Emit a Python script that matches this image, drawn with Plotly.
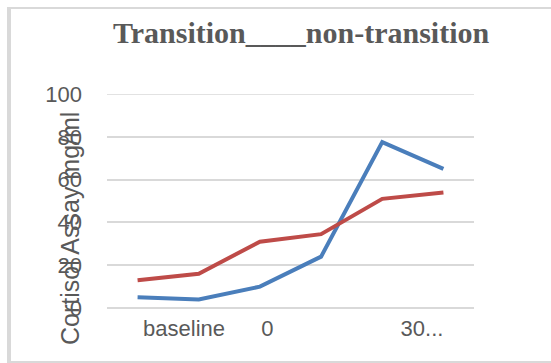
import plotly.graph_objects as go

categories = [0, 1, 2, 3, 4, 5]
transition = [5, 4, 10, 24, 77.5, 65]
non_transition = [13, 16, 31, 34.5, 51, 54]
tick_positions = [0.76, 2.12, 4.65]
tick_labels = ["baseline", "0", "30..."]
y_ticks = [0, 20, 40, 60, 80, 100]

W, H = 551, 363
L, R, T, B = 107, 77, 94, 55
PW, PH = W - L - R, H - T - B

def px(x):
    return (x - L) / PW

def py(y):
    return 1 - (y - T) / PH

fig = go.Figure()
fig.add_trace(go.Scatter(x=categories, y=transition, mode="lines",
                         line=dict(color="#4a7ebb", width=4), name="Transition"))
fig.add_trace(go.Scatter(x=categories, y=non_transition, mode="lines",
                         line=dict(color="#be4b48", width=4), name="non-transition"))

gray = "#d9d9d9"
fig.update_layout(
    width=W, height=H,
    margin=dict(l=L, r=R, t=T, b=B, autoexpand=False),
    paper_bgcolor="white", plot_bgcolor="white",
    showlegend=False,
    font=dict(family="Liberation Sans", color="#595959", size=22),
    xaxis=dict(range=[-0.5, 5.5], tickmode="array", tickvals=tick_positions,
               ticktext=tick_labels, showgrid=False, zeroline=False,
               showline=False, ticks="", ticklabelstandoff=5, tickfont=dict(size=22)),
    yaxis=dict(range=[0, 100], tickvals=y_ticks, showgrid=True, gridcolor=gray,
               gridwidth=1.5, zeroline=True, zerolinecolor=gray, zerolinewidth=1.5,
               showline=False, ticks="", ticklabelstandoff=24,
               tickfont=dict(size=22)),
)

# top gridline at 100
fig.add_shape(type="line", xref="paper", yref="y", x0=0, x1=1, y0=100, y1=100,
              line=dict(color=gray, width=1.5), layer="below")

fig.add_annotation(text="<b>Transition____non-transition</b>", xref="paper", yref="paper",
                   x=px(301), y=py(32), showarrow=False, xanchor="center", yanchor="middle",
                   font=dict(family="Liberation Serif", size=30, color="#595959"))
fig.add_annotation(text="Cortisol Assay mg/ml", xref="paper", yref="paper",
                   x=px(70), y=py(229), showarrow=False, xanchor="center", yanchor="middle",
                   textangle=-90, font=dict(family="Liberation Sans", size=25, color="#595959"))

# chart frame
fig.add_shape(type="line", xref="paper", yref="paper", x0=px(9), x1=px(9), y0=py(7), y1=py(363),
              line=dict(color=gray, width=4))
fig.add_shape(type="line", xref="paper", yref="paper", x0=px(7), x1=px(560), y0=py(8), y1=py(8),
              line=dict(color=gray, width=2))
fig.add_shape(type="line", xref="paper", yref="paper", x0=px(7), x1=px(560), y0=py(362), y1=py(362),
              line=dict(color=gray, width=2))

fig.write_html("out.html", config={"displayModeBar": False},
               post_script="document.body.style.margin='0';document.body.style.padding='0';")
